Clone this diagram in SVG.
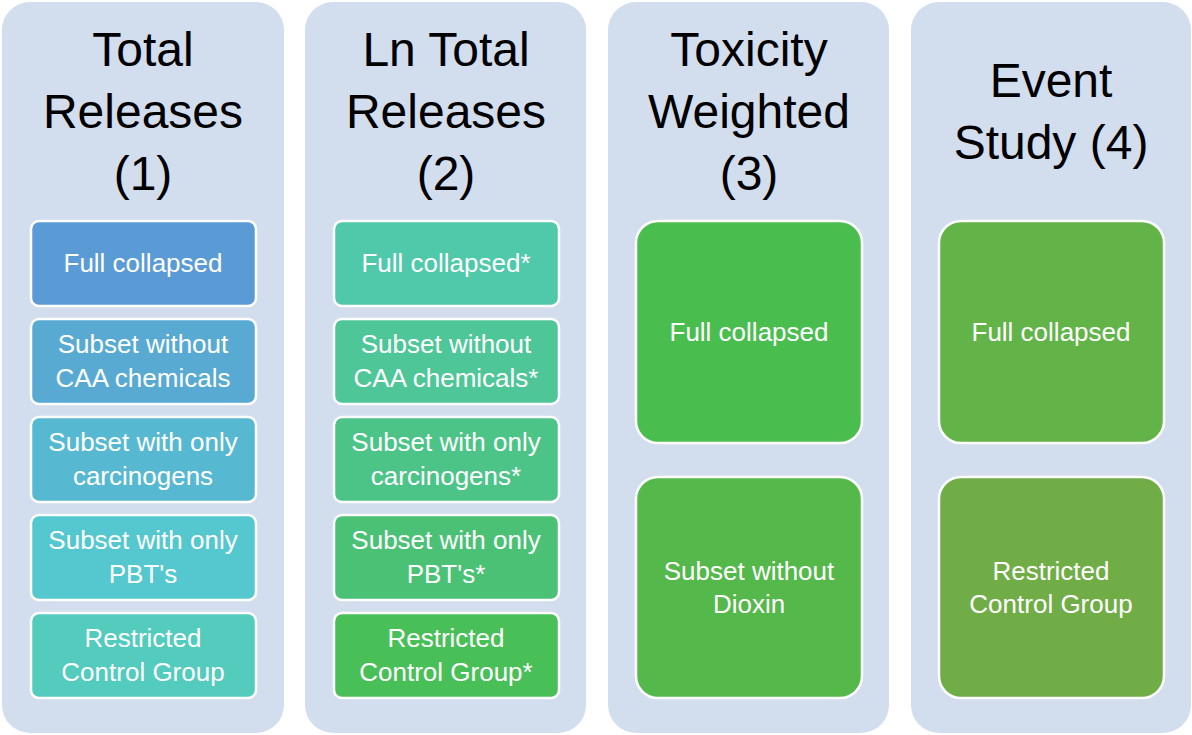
<svg xmlns="http://www.w3.org/2000/svg" width="1192" height="735" viewBox="0 0 1192 735">
<style>
.col{fill:#D2DDEE}
.hd{font-family:"Liberation Sans",Arial,sans-serif;font-size:48px;fill:#000;text-anchor:middle}
.bx{stroke:#fff;stroke-width:2.5}
.bt{font-family:"Liberation Sans",Arial,sans-serif;font-size:26px;fill:#fff;text-anchor:middle}
</style>
<rect width="1192" height="735" fill="#fff"/>
<g id="col1">
<rect class="col" x="2" y="2" width="282" height="731" rx="28"/>
<text class="hd" x="143" y="66">Total</text>
<text class="hd" x="143" y="128">Releases</text>
<text class="hd" x="143" y="190">(1)</text>
</g>
<g id="col2">
<rect class="col" x="305" y="2" width="281" height="731" rx="28"/>
<text class="hd" x="446" y="66">Ln Total</text>
<text class="hd" x="446" y="128">Releases</text>
<text class="hd" x="446" y="190">(2)</text>
</g>
<g id="col3">
<rect class="col" x="608" y="2" width="281" height="731" rx="28"/>
<text class="hd" x="749" y="66">Toxicity</text>
<text class="hd" x="749" y="128">Weighted</text>
<text class="hd" x="749" y="190">(3)</text>
</g>
<g id="col4">
<rect class="col" x="911" y="2" width="280" height="731" rx="28"/>
<text class="hd" x="1051" y="97">Event</text>
<text class="hd" x="1051" y="159">Study (4)</text>
</g>
<g id="n1a"><rect class="bx" x="31" y="221" width="225" height="85" rx="8" fill="#5B9BD5"/><text class="bt" x="143" y="272">Full collapsed</text></g>
<g id="n1b"><rect class="bx" x="31" y="319" width="225" height="85" rx="8" fill="#58AAD2"/><text class="bt" x="143" y="353">Subset without</text><text class="bt" x="143" y="387">CAA chemicals</text></g>
<g id="n1c"><rect class="bx" x="31" y="417" width="225" height="85" rx="8" fill="#57B9D1"/><text class="bt" x="143" y="451">Subset with only</text><text class="bt" x="143" y="485">carcinogens</text></g>
<g id="n1d"><rect class="bx" x="31" y="515" width="225" height="85" rx="8" fill="#55C8CF"/><text class="bt" x="143" y="549">Subset with only</text><text class="bt" x="143" y="583">PBT's</text></g>
<g id="n1e"><rect class="bx" x="31" y="613" width="225" height="85" rx="8" fill="#53CBBD"/><text class="bt" x="143" y="647">Restricted</text><text class="bt" x="143" y="681">Control Group</text></g>
<g id="n2a"><rect class="bx" x="334" y="221" width="225" height="85" rx="8" fill="#50C9AA"/><text class="bt" x="446" y="272">Full collapsed*</text></g>
<g id="n2b"><rect class="bx" x="334" y="319" width="225" height="85" rx="8" fill="#4EC698"/><text class="bt" x="446" y="353">Subset without</text><text class="bt" x="446" y="387">CAA chemicals*</text></g>
<g id="n2c"><rect class="bx" x="334" y="417" width="225" height="85" rx="8" fill="#4CC488"/><text class="bt" x="446" y="451">Subset with only</text><text class="bt" x="446" y="485">carcinogens*</text></g>
<g id="n2d"><rect class="bx" x="334" y="515" width="225" height="85" rx="8" fill="#4BC176"/><text class="bt" x="446" y="549">Subset with only</text><text class="bt" x="446" y="583">PBT's*</text></g>
<g id="n2e"><rect class="bx" x="334" y="613" width="225" height="85" rx="8" fill="#49BF58"/><text class="bt" x="446" y="647">Restricted</text><text class="bt" x="446" y="681">Control Group*</text></g>
<g id="n3a"><rect class="bx" x="636" y="221" width="226" height="222" rx="22" fill="#4ABD4F"/><text class="bt" x="749" y="341">Full collapsed</text></g>
<g id="n3b"><rect class="bx" x="636" y="477" width="226" height="221" rx="22" fill="#54B84B"/><text class="bt" x="749" y="580">Subset without</text><text class="bt" x="749" y="613">Dioxin</text></g>
<g id="n4a"><rect class="bx" x="939" y="221" width="225" height="222" rx="22" fill="#62B449"/><text class="bt" x="1051" y="341">Full collapsed</text></g>
<g id="n4b"><rect class="bx" x="939" y="477" width="225" height="221" rx="22" fill="#70AD47"/><text class="bt" x="1051" y="580">Restricted</text><text class="bt" x="1051" y="613">Control Group</text></g>
<g id="connectors"/>
</svg>
